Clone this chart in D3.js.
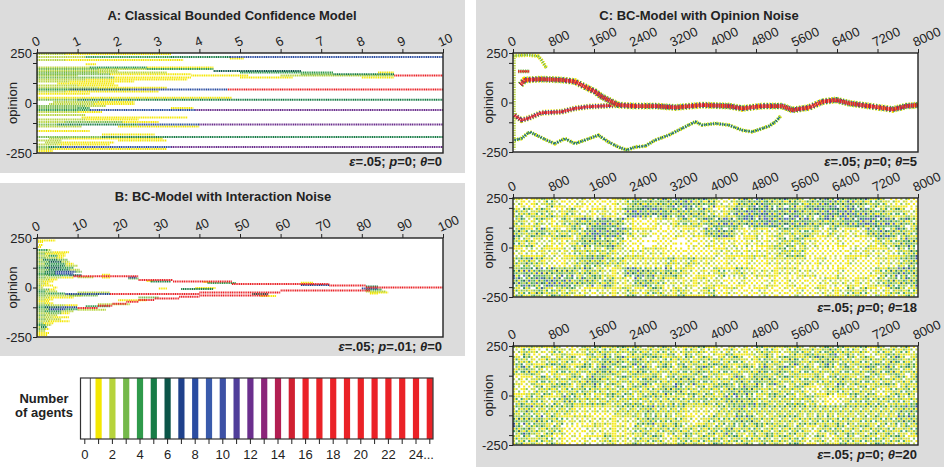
<!DOCTYPE html>
<html>
<head>
<meta charset="utf-8">
<script src="https://cdn.jsdelivr.net/npm/d3@7"></script>
<style>
body { margin: 0; background: #fff; }
svg { font-family: "Liberation Sans", Arial, sans-serif; }
</style>
</head>
<body>
<svg id="fig" width="946" height="467"></svg>
<script>
// ---- data ----
// colour for each number of agents in a cell (index = count, 16 = 16 or more)
const countColors = ['#ffffff', '#f4e700', '#b6d33b', '#75b94b', '#2f9a4b', '#177c46', '#0b5548',
  '#1f418b', '#2a4ca1', '#3a5bab', '#3d51a5', '#503e9a', '#6b2f8d', '#8b2579', '#b21f52', '#d02031', '#ea2227'];
const legendCounts = d3.range(0, 26);
const legendLabels = d3.range(0, 25, 2);

const ticksA = d3.range(0, 11, 1);
const ticksB = d3.range(0, 101, 10);
const ticksC = d3.range(0, 8001, 800);
const opinionTicks = [-250, -200, -100, 0, 100, 200, 250];
const opinionLabels = [-250, 0, 250];

// panel A runs: [opinion, t start, t end, agents]
const runsA = [
  [245, 0, 0.7, 2], [245, 0.7, 3.3, 1],
  [230, 0, 1.2, 2], [230, 1.2, 3.3, 4], [230, 3.3, 4.75, 5], [230, 4.75, 10, 8],
  [222, 4.75, 5.1, 1],
  [215, 0, 0.7, 2], [215, 0.7, 3.6, 1],
  [194, 1.2, 1.45, 1],
  [178, 0, 1.3, 2], [178, 1.3, 2.7, 4], [178, 2.7, 4.35, 1],
  [170, 0, 1.5, 3], [170, 1.5, 2.7, 2], [170, 2.7, 4.35, 4],
  [160, 0, 2.0, 2], [160, 4.35, 6.5, 6],
  [152, 0, 1.5, 3], [152, 1.5, 3.2, 2], [152, 5.0, 7.3, 4], [152, 8.4, 8.8, 1],
  [144, 0, 1.8, 3], [144, 1.8, 3.8, 1], [144, 6.5, 7.3, 3], [144, 7.3, 8.8, 5],
  [137, 0, 1.0, 2], [137, 3.8, 5.2, 1], [137, 6.0, 8.8, 2], [137, 8.8, 10, 16],
  [128, 0, 1.9, 3], [128, 1.9, 3.8, 1], [128, 5.0, 6.3, 1], [128, 8.0, 8.8, 1],
  [118, 0, 1.2, 2], [118, 1.2, 3.7, 1],
  [108, 0, 0.8, 2], [108, 0.8, 2.4, 1],
  [98, 0.5, 1.9, 1],
  [88, 0, 1.0, 2], [88, 1.0, 2.0, 1],
  [76, 0, 1.5, 2], [76, 1.5, 3.2, 1],
  [67, 0, 0.8, 4], [67, 0.8, 2.3, 6], [67, 2.3, 4.7, 8], [67, 4.7, 10, 16],
  [57, 0, 0.7, 2], [57, 0.7, 3.0, 1],
  [46, 0, 1.3, 1],
  [26, 0, 4.8, 1],
  [16, 0, 1.0, 3], [16, 1.0, 10, 5],
  [5, 0.4, 1.5, 2], [5, 1.5, 2.4, 1],
  [-5, 0.3, 1.4, 2], [-5, 1.4, 2.4, 1],
  [-15, 0, 1.2, 3], [-15, 1.2, 1.7, 2],
  [-25, 0, 1.0, 3], [-25, 1.0, 1.3, 4], [-25, 3.3, 3.85, 1],
  [-35, 0, 1.3, 4], [-35, 1.3, 3.9, 8], [-35, 3.9, 10, 12],
  [-45, 0, 1.0, 2], [-45, 1.0, 1.6, 1],
  [-60, 0, 1.2, 2],
  [-72, 1.1, 3.7, 1],
  [-82, 0, 1.2, 2], [-82, 1.2, 2.5, 1],
  [-95, 0, 0.7, 2], [-95, 0.7, 2.1, 3], [-95, 2.1, 3.0, 1],
  [-108, 0, 0.5, 3], [-108, 0.5, 2.5, 5], [-108, 2.5, 4.0, 8], [-108, 4.0, 10, 12],
  [-118, 0, 1.1, 2], [-118, 2.0, 4.0, 1],
  [-140, 0, 1.3, 1],
  [-158, 1.6, 2.9, 1],
  [-170, 0, 1.6, 3], [-170, 1.6, 10, 5],
  [-178, 0.3, 0.8, 2], [-178, 0.8, 3.1, 1],
  [-188, 0, 0.6, 2], [-188, 2.0, 3.2, 1],
  [-198, 0.2, 0.6, 2], [-198, 0.6, 1.9, 1],
  [-208, 0, 0.5, 2], [-208, 0.5, 1.8, 1],
  [-220, 0, 0.3, 3], [-220, 0.3, 0.6, 5], [-220, 0.6, 3.3, 8], [-220, 3.3, 10, 12],
  [-230, 0, 0.4, 2], [-230, 0.4, 3.2, 1],
  [-240, 0, 0.4, 1]
];

// panel B runs: [opinion, t start, t end, agents]
const runsB = [
  [238, 0.3, 4.5, 1], [230, 0.3, 1.5, 1], [215, 0.5, 1.5, 1], [205, 0.3, 1.0, 1],
  [190, 0, 2.5, 4], [190, 2.5, 3.5, 2],
  [178, 0, 4, 2], [178, 4, 8, 1],
  [170, 0, 2, 3], [170, 2, 7, 1],
  [160, 0, 3, 2], [160, 3, 5, 4], [160, 5, 7, 1],
  [150, 0, 2, 3], [150, 2, 5, 2], [150, 5, 6.5, 1],
  [140, 0, 1.5, 2], [140, 1.5, 5, 5], [140, 5, 7.5, 3],
  [130, 0, 3, 3], [130, 3, 6, 6], [130, 6, 8, 2],
  [120, 0, 2, 2], [120, 2, 7, 4], [120, 7, 9, 1],
  [110, 0, 3, 3], [110, 3, 7, 5], [110, 7, 10, 2],
  [100, 0, 2, 4], [100, 2, 6, 6], [100, 6, 9, 4],
  [90, 0, 3, 3], [90, 3, 8, 5], [90, 8, 10.5, 2],
  [80, 0, 2, 3], [80, 2, 4.5, 5], [80, 4.5, 9.5, 7], [80, 9.5, 11, 3],
  [70, 0, 2, 4], [70, 2, 4.5, 5], [70, 4.5, 9, 8],
  [62, 0, 3, 3], [62, 3, 8, 4], [62, 8, 11, 6],
  [50, 0, 2, 3], [50, 2, 6, 2], [50, 6, 9, 1],
  [40, 0, 3, 2], [40, 3, 5, 1],
  [30, 0, 1.5, 2], [30, 1.5, 4, 1],
  [20, 0, 2, 2], [20, 2, 3, 1],
  [10, 0, 1, 3], [10, 1, 4, 1],
  [0, 0, 1.5, 2], [0, 4, 5, 1],
  [-10, 0, 3, 3], [-10, 3, 4.5, 1],
  [-20, 0, 2, 4], [-20, 2, 5, 2],
  [-30, 0, 3, 3], [-30, 3, 7, 4],
  [-40, 0, 2, 3], [-40, 2, 8, 2], [-40, 8, 11, 1],
  [-50, 0, 3, 2], [-50, 3, 9, 1],
  [-60, 0, 2, 2], [-60, 2, 4, 1],
  [-70, 0, 3, 1],
  [-80, 0, 2, 2], [-80, 2, 4, 1],
  [-90, 0, 3, 3], [-90, 3, 7, 2], [-90, 7, 10, 1],
  [-100, 0, 2, 4], [-100, 2, 6, 6], [-100, 6, 10, 7],
  [-110, 0, 3, 3], [-110, 3, 7, 7], [-110, 7, 10, 4],
  [-120, 0, 2, 3], [-120, 2, 6, 4], [-120, 6, 9, 2],
  [-130, 0, 3, 2], [-130, 3, 6, 3], [-130, 6, 8, 1],
  [-140, 0, 2, 3], [-140, 2, 5, 2],
  [-150, 0, 4, 2], [-150, 4, 8, 1],
  [-160, 0, 2, 3], [-160, 2, 6, 2],
  [-170, 0, 3, 2], [-170, 3, 8, 1],
  [-180, 0, 1.5, 3], [-180, 1.5, 4, 1],
  [-190, 0, 2, 4], [-190, 2, 3.5, 2],
  [-200, 0, 1, 2], [-200, 1, 2.5, 5],
  [-210, 0, 2, 3], [-210, 2, 3, 1],
  [-220, 0, 2, 2], [-230, 0, 3, 1], [-240, 0, 2.5, 1],
  // fragments beside the clusters
  [-33, 7, 18, 7], [-40, 8, 15, 3], [-25, 10, 18, 2],
  [52, 10, 14, 2], [64, 16, 18, 1], [50, 16, 18, 1],
  [50, 22.5, 24.5, 8], [45, 22.5, 25, 3],
  [30, 28, 33, 5], [33, 27, 28.5, 1],
  [23, 42, 49, 4], [28, 41, 43, 1],
  [13, 65, 72, 7], [24, 65, 68, 1],
  [-5, 30, 32, 1],
  [-8, 35.5, 43.5, 5], [-3, 39, 44, 1],
  [-95, 12, 18, 4], [-112, 10, 17, 2], [-85, 15, 23, 2], [-65, 20, 27, 1], [-50, 25, 30, 3],
  [-33, 53, 57, 6], [-43, 55, 59, 1],
  [5, 81, 84, 5], [-5, 80, 84, 8], [-10, 81, 85, 4], [-20, 81, 86, 2], [-25, 82, 86.5, 1], [-30, 82, 84, 1],
  // converged clusters
  [57, 9, 25, 16], [38, 25, 33.5, 16], [30, 33.5, 48, 16], [18, 48, 72, 16], [10, 72, 81, 16],
  [-33, 18, 40, 16], [-25, 40, 60, 16], [-15, 60, 82, 16],
  [0, 81, 100, 16],
  [-103, 10, 15, 16], [-92, 15, 18.6, 16], [-82, 18.6, 22, 16], [-72, 22, 25, 16],
  [-63, 25, 29, 16], [-55, 29, 35, 16], [-47, 35, 40, 16], [-40, 40, 57, 16]
];

// panel C, theta = 5: cluster paths [t, opinion]
const c5Main = [[150, 90], [230, 114], [560, 118], [960, 114], [1220, 106], [1420, 80], [1620, 55], [1750, 30],
  [1880, 13], [2080, -13], [2410, -18], [2810, -18], [3210, -25], [3730, -13], [4260, -18], [4530, -30],
  [4920, -18], [5320, -18], [5520, -38], [5850, -25], [6110, 4], [6380, 13], [6640, -4], [7040, -18],
  [7500, -35], [7770, -18], [8000, -13]];
const c5Low = [[30, -64], [165, -89], [300, -80], [560, -52], [960, -47], [1220, -30], [1490, -21], [1750, -18], [2080, -13]];
const c5TopRed = [[100, 157], [330, 157]];
const c5Top = [[0, 236], [300, 240], [500, 234], [560, 215], [660, 174]];
const c5Bottom = [[30, -190], [165, -182], [330, -148], [463, -165], [661, -190], [826, -208], [1025, -182],
  [1223, -208], [1421, -190], [1686, -165], [1884, -199], [2082, -225], [2247, -240], [2413, -225],
  [2611, -220], [2809, -190], [3074, -165], [3338, -131], [3603, -97], [3734, -114], [3999, -106],
  [4263, -114], [4528, -140], [4726, -148], [4925, -131], [5057, -119], [5189, -97], [5288, -68]];
const c5Start = [[30, 238], [30, -238]];

// panels C, theta = 18 and 20: density per 200 steps x 50 opinion units, top row = 200..250
const grid18 = [
  '2123212111 2344445544 2244544434 5545433221',
  '3333232222 2565544443 2356655544 5666544332',
  '3232234455 4211223334 5545565554 4445665543',
  '4343333565 5322112224 5422223333 2322245443',
  '3322223444 3110110112 2212223332 1121123344',
  '2222223333 2222211111 2222223331 1112222234',
  '3432123443 3222232322 1212122221 2112112234',
  '4554443432 2554343222 3232222222 1121123454',
  '5556554434 2244322222 2121121211 2222223444',
  '3343332222 2323323223 1211211121 2223322333'
];
const grid20 = [
  '23223223 333333332332 2322332333 3433323332',
  '33233323 344343333333 3332333433 4433333433',
  '34323333 443343333343 3333434333 3333343433',
  '22333334 433334334433 3343443333 3343333333',
  '22333333 333333344333 3444333332 2333332333',
  '33323433 333333333333 3444333333 2123333333',
  '34333322 223334333222 3343333333 3333333344',
  '44433222 222234333223 3344333333 3333333344',
  '44333112 222233333333 3433333332 3333333333',
  '33332112 232233323333 3333333332 3233333332'
];

// ---- drawing ----
const svg = d3.select('#fig');
const panelFill = '#dcdcdc';
const ink = '#222';
const colorOf = n => countColors[Math.min(n, 16)];

svg.append('rect').attr('x', 0).attr('y', 0).attr('width', 465).attr('height', 173).attr('fill', panelFill);
svg.append('rect').attr('x', 0).attr('y', 183).attr('width', 465).attr('height', 173).attr('fill', panelFill);
svg.append('rect').attr('x', 476).attr('y', 0).attr('width', 468).attr('height', 467).attr('fill', panelFill);

function title(x, y, txt) {
  svg.append('text').attr('x', x).attr('y', y).attr('text-anchor', 'middle')
    .attr('font-size', 13).attr('font-weight', 'bold').attr('fill', ink).text(txt);
}
title(232, 20, 'A: Classical Bounded Confidence Model');
title(223, 201, 'B: BC-Model with Interaction Noise');
title(699, 20, 'C: BC-Model with Opinion Noise');

function params(x, y, p, theta) {
  const t = svg.append('text').attr('x', x).attr('y', y).attr('text-anchor', 'end')
    .attr('font-size', 13).attr('font-weight', 'bold').attr('fill', ink);
  t.append('tspan').attr('font-style', 'italic').text('ε');
  t.append('tspan').text('=.05; ');
  t.append('tspan').attr('font-style', 'italic').text('p');
  t.append('tspan').text('=' + p + '; ');
  t.append('tspan').attr('font-style', 'italic').text('θ');
  t.append('tspan').text('=' + theta);
}

let clipId = 0;
function makePanel(box, xDomain, xTicks) {
  const x = d3.scaleLinear().domain(xDomain).range([box.x, box.x + box.w]);
  const y = d3.scaleLinear().domain([-250, 250]).range([box.y + box.h, box.y]);
  const id = 'clip' + (clipId++);
  svg.append('clipPath').attr('id', id).append('rect')
    .attr('x', box.x).attr('y', box.y).attr('width', box.w).attr('height', box.h);
  svg.append('rect').attr('x', box.x).attr('y', box.y).attr('width', box.w).attr('height', box.h).attr('fill', '#fff');
  const g = svg.append('g').attr('clip-path', `url(#${id})`);

  const ax = svg.append('g').attr('transform', `translate(0,${box.y})`)
    .call(d3.axisTop(x).tickValues(xTicks).tickSize(4).tickFormat(d3.format('d')));
  ax.select('.domain').remove();
  ax.selectAll('line').attr('stroke', ink);
  ax.selectAll('text').attr('font-size', 13).attr('fill', ink).attr('font-family', null)
    .attr('text-anchor', 'start').attr('x', -3).attr('y', -6).attr('dy', 0)
    .attr('transform', 'rotate(-25 -3 -6)');

  const ay = svg.append('g').attr('transform', `translate(${box.x},0)`)
    .call(d3.axisLeft(y).tickValues(opinionTicks).tickSize(4).tickPadding(1)
      .tickFormat(d => opinionLabels.includes(d) ? d : ''));
  ay.select('.domain').remove();
  ay.selectAll('line').attr('stroke', ink);
  ay.selectAll('text').attr('font-size', 13).attr('fill', ink).attr('font-family', null);

  svg.append('text').attr('transform', `translate(${box.x - 25},${box.y + box.h / 2}) rotate(-90)`)
    .attr('text-anchor', 'middle').attr('dy', '0.35em').attr('font-size', 13).attr('fill', ink).text('opinion');

  return { x, y, g, box };
}

function drawBorder(p) {
  svg.append('rect').attr('x', p.box.x).attr('y', p.box.y).attr('width', p.box.w).attr('height', p.box.h)
    .attr('fill', 'none').attr('stroke', ink).attr('stroke-width', 1.4);
}

function drawRuns(p, runs) {
  p.g.selectAll('line.run').data(runs.slice().sort((a, b) => a[3] - b[3])).enter().append('line')
    .attr('class', 'run')
    .attr('x1', d => p.x(d[1])).attr('x2', d => p.x(d[2]))
    .attr('y1', d => p.y(d[0])).attr('y2', d => p.y(d[0]))
    .attr('stroke', d => colorOf(d[3])).attr('stroke-width', 2)
    .attr('stroke-dasharray', '1.2 0.6');
}

function drawTrack(p, pts, layers) {
  const line = d3.line().x(d => p.x(d[0])).y(d => p.y(d[1]));
  layers.forEach(([n, w, dash]) => {
    p.g.append('path').attr('d', line(pts)).attr('fill', 'none')
      .attr('stroke', colorOf(n)).attr('stroke-width', w)
      .attr('stroke-dasharray', dash).attr('stroke-linejoin', 'round');
  });
}

// ordered dither: spreads the agents of a coarse cell over 4x4 sub-cells
const bayer = [[0, 8, 2, 10], [12, 4, 14, 6], [3, 11, 1, 9], [15, 7, 13, 5]];
const levelMix = [
  [1, 1, 1, 0, 0, 0, 0, 0, 0, 0, 0, 0, 0, 0, 0, 0],
  [2, 2, 1, 1, 1, 1, 1, 1, 0, 0, 0, 0, 0, 0, 0, 0],
  [3, 3, 2, 2, 2, 1, 1, 1, 1, 1, 1, 0, 0, 0, 0, 0],
  [5, 4, 4, 3, 3, 3, 2, 2, 2, 1, 1, 1, 1, 1, 0, 0],
  [7, 6, 5, 4, 4, 4, 3, 3, 3, 2, 2, 2, 1, 1, 1, 0],
  [9, 8, 7, 6, 5, 5, 4, 4, 3, 3, 3, 2, 2, 1, 1, 0],
  [10, 9, 8, 7, 7, 6, 5, 5, 4, 4, 3, 3, 2, 2, 1, 1]
];
// one of the eight symmetries of the 4x4 matrix, chosen per coarse cell
function ditherRank(i, j, k) {
  let a = i, b = j;
  if (k & 1) { a = 3 - a; }
  if (k & 2) { b = 3 - b; }
  if (k & 4) { const s = a; a = b; b = s; }
  return bayer[a][b];
}

function drawGrid(p, rows) {
  const cells = [];
  rows.forEach((row, r) => {
    row.replace(/ /g, '').split('').forEach((ch, c) => {
      const mix = levelMix[+ch];
      const k = (r * 3 + c * 5 + ((r * c) >> 1)) % 8;
      for (let i = 0; i < 4; i++) for (let j = 0; j < 4; j++) {
        const n = mix[ditherRank(i, j, k)];
        if (n > 0) cells.push({ t: c * 200 + j * 50, op: 250 - r * 50 - i * 12.5, n });
      }
    });
  });
  const cw = p.x(50) - p.x(0), ch = p.y(0) - p.y(12.5);
  p.g.selectAll('rect.cell').data(cells).enter().append('rect')
    .attr('x', d => p.x(d.t)).attr('y', d => p.y(d.op))
    .attr('width', cw - 0.45).attr('height', ch - 0.45)
    .attr('fill', d => colorOf(d.n)).attr('fill-opacity', 0.88);
}

// A
const pA = makePanel({ x: 37, y: 53, w: 406, h: 100 }, [0, 10], ticksA);
drawRuns(pA, runsA);
drawBorder(pA);
params(442, 166, '0', '0');

// B
const pB = makePanel({ x: 37, y: 238, w: 406, h: 99 }, [0, 100], ticksB);
drawRuns(pB, runsB);
drawBorder(pB);
params(442, 351, '.01', '0');

// C theta = 5
const pC1 = makePanel({ x: 513, y: 53, w: 405, h: 99 }, [0, 8000], ticksC);
drawTrack(pC1, c5Start, [[2, 2.4, '1.4 1']]);
drawTrack(pC1, c5Top, [[1, 4, '1.3 1.4'], [3, 2.2, '1.3 1']]);
drawTrack(pC1, c5Bottom, [[1, 4, '1.2 1.8'], [4, 2.8, '1.3 1'], [8, 1.4, '1.3 2.4']]);
drawTrack(pC1, c5Low, [[1, 6, '1.2 1.6'], [8, 4.6, '1.2 1.6'], [16, 2.8, '1.4 0.5']]);
drawTrack(pC1, c5Main, [[1, 7, '1.2 1.6'], [4, 6, '1.2 2.2'], [8, 5, '1.2 2.4'], [16, 3.8, '1.4 0.5']]);
drawTrack(pC1, c5TopRed, [[3, 3.6, '1.3 1'], [16, 2.4, '1.4 0.5']]);
drawBorder(pC1);
params(917, 166, '0', '5');

// C theta = 18
const pC2 = makePanel({ x: 513, y: 198, w: 405, h: 99 }, [0, 8000], ticksC);
drawGrid(pC2, grid18);
drawBorder(pC2);
params(917, 312, '0', '18');

// C theta = 20
const pC3 = makePanel({ x: 513, y: 346, w: 405, h: 99 }, [0, 8000], ticksC);
drawGrid(pC3, grid20);
drawBorder(pC3);
params(917, 459, '0', '20');

// legend
const lx = d3.scaleLinear().domain([0, 25]).range([84.8, 84.8 + 25 * 13.8]);
const leg = svg.append('g');
leg.append('rect').attr('x', 80.5).attr('y', 378).attr('width', 352.5).attr('height', 61).attr('fill', '#fff');
leg.selectAll('rect.stripe').data(legendCounts.filter(n => n > 0)).enter().append('rect')
  .attr('class', 'stripe')
  .attr('x', d => lx(d) - 3.1).attr('y', 378).attr('width', 6.2).attr('height', 61)
  .attr('fill', d => colorOf(d));
leg.append('line').attr('x1', lx(0.4)).attr('x2', lx(0.4)).attr('y1', 378).attr('y2', 439)
  .attr('stroke', '#555').attr('stroke-width', 1);
leg.append('rect').attr('x', 80.5).attr('y', 378).attr('width', 352.5).attr('height', 61)
  .attr('fill', 'none').attr('stroke', '#333').attr('stroke-width', 1.2);
leg.selectAll('line.tick').data(legendCounts).enter().append('line')
  .attr('x1', d => lx(d)).attr('x2', d => lx(d)).attr('y1', 439).attr('y2', 444)
  .attr('stroke', ink).attr('stroke-width', 1);
leg.selectAll('text.lab').data(legendLabels).enter().append('text')
  .attr('x', d => d === 24 ? lx(d) - 7.3 : lx(d)).attr('y', 459)
  .attr('text-anchor', d => d === 24 ? 'start' : 'middle')
  .attr('font-size', 13).attr('fill', ink)
  .text(d => d === 24 ? '24...' : d);
leg.append('text').attr('x', 44).attr('y', 403).attr('text-anchor', 'middle')
  .attr('font-size', 13).attr('font-weight', 'bold').attr('fill', ink).text('Number');
leg.append('text').attr('x', 44).attr('y', 417).attr('text-anchor', 'middle')
  .attr('font-size', 13).attr('font-weight', 'bold').attr('fill', ink).text('of agents');
</script>
</body>
</html>
